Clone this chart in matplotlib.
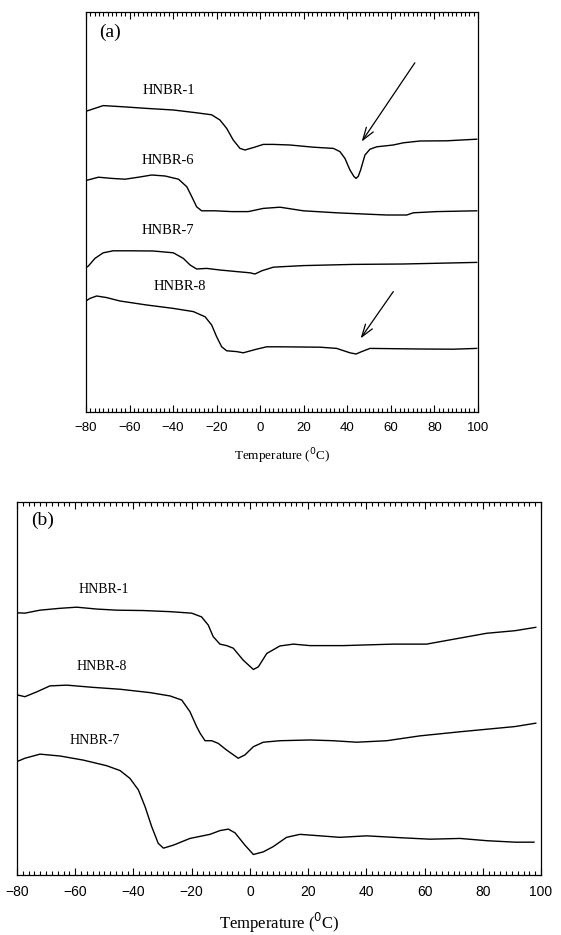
import matplotlib
matplotlib.use("Agg")
import matplotlib.pyplot as plt
from matplotlib.ticker import MultipleLocator

# --------------------------------------------------------------
# Data (temperature in C, heat flow a.u.)
# --------------------------------------------------------------
# panel (a)
a1_t = [-80.5, -78.2, -72.1, -62.9, -52.1, -39.9, -29.2, -22.3, -18.5, -15.4, -12.4, -9.3, -7, -3.2,
        1.4, 6, 13.7, 24.4, 33.6, 36.6, 38.9, 41.2, 43, 44, 45, 46.1, 48.1, 50.4, 53.5, 61.1, 65.7,
        73.4, 85.6, 99.4]
a1_y = [75.1, 75.5, 76.6, 76.3, 75.9, 75.5, 74.8, 74.3, 73, 70.9, 68, 65.9, 65.5, 66.1,
        66.9, 66.9, 66.75, 66.2, 65.9, 65.1, 63.4, 60.5, 58.9, 58.4, 58.9, 60.5, 64.25, 65.7, 66.3, 66.75, 67.3,
        67.75, 67.8, 68.2]

a6_t = [-80.5, -74.3, -68.2, -62.1, -55.9, -49.8, -43.7, -37.5, -33.7, -31.4, -29.2, -26.9, -20.8,
        -13.1, -5.5, 1.4, 9.1, 19.8, 35.1, 47.3, 58.1, 67.3, 70.3, 81, 99.4]
a6_y = [57.8, 58.7, 58.4, 58.2, 58.7, 59.25, 59, 58.2, 56.3, 53.8, 51.3, 50.3, 50.3,
        50.1, 50.1, 50.9, 51.2, 50.3, 49.8, 49.5, 49.25, 49.25, 49.8, 50.1, 50.3]

a7_t = [-80.5, -78.9, -75.9, -72.1, -67.5, -59.8, -49.1, -39.9, -35.3, -32.2, -29.2, -24.6, -18.5,
        -10.8, -4.7, -2.4, 0.7, 6, 9.1, 19.8, 42.7, 65.7, 99.4]
a7_y = [35.9, 36.5, 38.4, 39.8, 40.3, 40.3, 40.25, 39.8, 38.4, 36.75, 35.75, 35.9, 35.5,
        35.1, 34.8, 34.5, 35.3, 36.2, 36.3, 36.6, 36.9, 37, 37.4]

a8_t = [-80.5, -78.2, -75.1, -70.5, -64.4, -52.1, -39.9, -30.7, -25.3, -22.3, -20, -17.7, -15.4,
        -10.8, -7.8, -1.7, 3, 9.1, 27.5, 35.1, 41.2, 44, 46.6, 50.4, 73.4, 88.7, 99.4]
a8_y = [27.6, 28.4, 29, 28.6, 27.75, 26.75, 25.9, 25.1, 23.8, 21.75, 18.8, 16.3, 15.3,
        15.1, 14.8, 15.7, 16.3, 16.3, 16.2, 15.9, 14.8, 14.5, 15.1, 15.9, 15.75, 15.7, 15.9]

# panel (b)
b1_t = [-80, -77.3, -72.1, -65.2, -59.5, -52.6, -45.8, -36.6, -27.4, -20, -16.6, -14.3, -12.6,
        -10.3, -8, -5.7, -2.3, 1.2, 2.9, 5.8, 10.3, 14.9, 20.6, 32.1, 49.3, 60.7, 69.9, 81.3, 91.1, 98.2]
b1_y = [70.3, 70.2, 71.0, 71.5, 71.8, 71.3, 71.0, 70.9, 70.6, 70.2, 69.2, 67.0, 63.9,
        61.9, 61.5, 60.8, 57.6, 55.1, 55.8, 59.4, 61.4, 61.9, 61.5, 61.5, 61.9, 61.9, 63.2, 64.8, 65.5, 66.4]

b8_t = [-80, -77.3, -73.2, -68.7, -62.9, -53.8, -44.6, -34.3, -27.4, -23.4, -20.6, -18.3, -17.1,
        -15.4, -13.1, -10.9, -8, -4, -1.7, 1.2, 4.6, 10.3, 20.6, 28.6, 36.7, 47, 58.4, 72.2, 91.1, 98.2]
b8_y = [48.3, 47.8, 49.1, 50.7, 50.9, 50.3, 49.8, 48.9, 48, 46.9, 43.8, 39.8, 38,
        36, 36, 35.3, 33.5, 31.3, 32.2, 34.4, 35.6, 36, 36.2, 36, 35.6, 36, 37.3, 38.4, 39.8, 40.7]

b7_t = [-80, -77.3, -72.1, -65.2, -57.2, -49.2, -44.6, -41.2, -38.3, -36, -33.7, -31.5, -29.7,
        -26.3, -20.6, -13.7, -10.3, -7.4, -5.1, -1.7, 1.2, 4.6, 8, 12.6, 17.2, 24.1, 30.9, 40.1,
        51.6, 61.9, 72.2, 81.3, 91.1, 97.6]
b7_y = [30.4, 31.3, 32.4, 31.9, 30.8, 29.3, 28, 25.9, 22.8, 18.3, 12.9, 8.5, 7.2,
        8, 9.8, 10.9, 11.9, 12.3, 11.3, 8, 5.5, 6.2, 7.6, 10.1, 10.9, 10.5, 10.1, 10.5,
        10, 9.6, 9.8, 9.2, 8.8, 8.8]

curves_a = {"HNBR-1": (a1_t, a1_y), "HNBR-6": (a6_t, a6_y),
            "HNBR-7": (a7_t, a7_y), "HNBR-8": (a8_t, a8_y)}
curves_b = {"HNBR-1": (b1_t, b1_y), "HNBR-8": (b8_t, b8_y), "HNBR-7": (b7_t, b7_y)}

# label positions (T, y)
labels_a = {"HNBR-1": (-41.7, 80.5), "HNBR-6": (-42.5, 62.8),
            "HNBR-7": (-42.6, 45.5), "HNBR-8": (-36.7, 31.5)}
labels_b = {"HNBR-1": (-50.3, 76.6), "HNBR-8": (-50.9, 56), "HNBR-7": (-53.3, 36)}

# arrows (tail, head)
arrows_a = [((71, 87.3), (46.6, 67.6)), ((61.1, 30.1), (46.1, 18.4))]

xticks = [-80, -60, -40, -20, 0, 20, 40, 60, 80, 100]

# --------------------------------------------------------------
# Figure
# --------------------------------------------------------------
serif = "Liberation Serif"
sans = "Liberation Sans"

fig = plt.figure(figsize=(5.61, 9.35), dpi=100)
ax_a = fig.add_axes([86 / 561, 1 - 412 / 935, 392 / 561, 400 / 935])
ax_b = fig.add_axes([17 / 561, 1 - 875 / 935, 524 / 561, 373 / 935])


def style_axis(ax, tick_size):
    ax.set_xlim(-80, 100)
    ax.set_ylim(0, 100)
    ax.set_xticks(xticks)
    ax.xaxis.set_minor_locator(MultipleLocator(2))
    ax.set_yticks([])
    ax.tick_params(axis="x", which="both", direction="in", top=True, bottom=True, width=0.8)
    ax.tick_params(axis="x", which="major", length=5, pad=7)
    ax.tick_params(axis="x", which="minor", length=3)
    for lab in ax.get_xticklabels():
        lab.set_fontfamily(sans)
        lab.set_fontsize(tick_size)
    for s in ax.spines.values():
        s.set_linewidth(0.9)


for ax, curves, labels, tsize, lsize, xl_size, tag, tag_x in [
        (ax_a, curves_a, labels_a, 9.5, 10.5, 9.5, "(a)", 0.06),
        (ax_b, curves_b, labels_b, 10, 10, 12, "(b)", 0.049)]:
    for name, (t, y) in curves.items():
        ax.plot(t, y, color="black", lw=1.0, solid_joinstyle="round")
    for name, (lt, ly) in labels.items():
        ax.text(lt, ly, name, ha="center", va="center", fontfamily=serif, fontsize=lsize)
    style_axis(ax, tsize)
    ax.text(tag_x, 0.95, tag, transform=ax.transAxes, ha="center", va="center",
            fontfamily=serif, fontsize=14)
    ax.set_xlabel("Temperature ($^{0}$C)", fontfamily=serif, fontsize=xl_size, labelpad=9)

for tail, head in arrows_a:
    ax_a.annotate("", xy=head, xytext=tail,
                  arrowprops=dict(arrowstyle="->,head_length=0.9,head_width=0.3",
                                  color="black", lw=0.9, shrinkA=0, shrinkB=0))

fig.savefig("out.png", dpi=100)
